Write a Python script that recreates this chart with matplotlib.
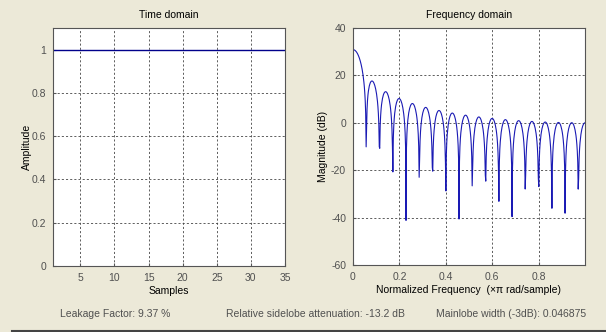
import numpy as np
import matplotlib.pyplot as plt

plt.rcParams['font.family'] = ['Liberation Sans', 'DejaVu Sans']
plt.rcParams['font.size'] = 7.5
plt.rcParams['axes.unicode_minus'] = False

# window samples (rectangular, length 35)
window = [1.0] * 35
samples = list(range(1, 36))
nfft = 1024

# stats shown under the plots
leakage_txt = 'Leakage Factor: 9.37 %'
sidelobe_txt = 'Relative sidelobe attenuation: -13.2 dB'
mainlobe_txt = 'Mainlobe width (-3dB): 0.046875'

bg = '#ece9d8'
edge = '#555555'
tickc = '#505050'

# magnitude response of the window samples, half spectrum like wvtool
spec = np.fft.fft(np.array(window), nfft)[:nfft // 2]
mag = 20 * np.log10(np.abs(spec) + 1e-12)
freq = np.arange(nfft // 2) / (nfft // 2)

fig = plt.figure(figsize=(6.06, 3.32), dpi=100, facecolor=bg)
ax1 = fig.add_axes([53/606, 66/332, 232/606, 238/332])
ax2 = fig.add_axes([353/606, 67/332, 232/606, 237/332])

def style(ax):
    for s in ax.spines.values():
        s.set_color(edge)
        s.set_linewidth(0.8)
    ax.tick_params(direction='in', length=2.5, colors=edge, labelcolor=tickc,
                   top=False, right=False, pad=5)
    ax.grid(True, linestyle=(0, (2.5, 2.5)), color='#444444', linewidth=0.6)

ax1.plot(samples, window, color='#00008b', linewidth=1.0)
ax1.set_xlim(1, 35)
ax1.set_ylim(0, 1.1)
ax1.set_xticks([5, 10, 15, 20, 25, 30, 35])
ax1.set_yticks([0, 0.2, 0.4, 0.6, 0.8, 1])
ax1.set_yticklabels(['0', '0.2', '0.4', '0.6', '0.8', '1'])
ax1.set_title('Time domain', fontsize=7.5, pad=7)
ax1.set_xlabel('Samples', labelpad=2)
ax1.set_ylabel('Amplitude', labelpad=0)
style(ax1)

ax2.plot(freq, mag, color='#1a1ab4', linewidth=0.8)
ax2.set_xlim(0, 1)
ax2.set_ylim(-60, 40)
ax2.set_xticks([0, 0.2, 0.4, 0.6, 0.8])
ax2.set_xticklabels(['0', '0.2', '0.4', '0.6', '0.8'])
ax2.set_yticks([-60, -40, -20, 0, 20, 40])
ax2.set_title('Frequency domain', fontsize=7.5, pad=7)
ax2.set_xlabel('Normalized Frequency  (\u00d7\u03c0 rad/sample)', labelpad=2)
ax2.set_ylabel('Magnitude (dB)', labelpad=2)
style(ax2)

fig.text(60/606, 1 - 314/332, leakage_txt, va='center', ha='left', color='#505050')
fig.text(315/606, 1 - 314/332, sidelobe_txt, va='center', ha='center', color='#505050')
fig.text(586/606, 1 - 314/332, mainlobe_txt, va='center', ha='right', color='#505050')
fig.add_artist(plt.Line2D([12/606, 1], [1.2/332, 1.2/332], color='#444444', linewidth=1.5,
                          transform=fig.transFigure))

fig.savefig('out.png', dpi=100, facecolor=bg)
